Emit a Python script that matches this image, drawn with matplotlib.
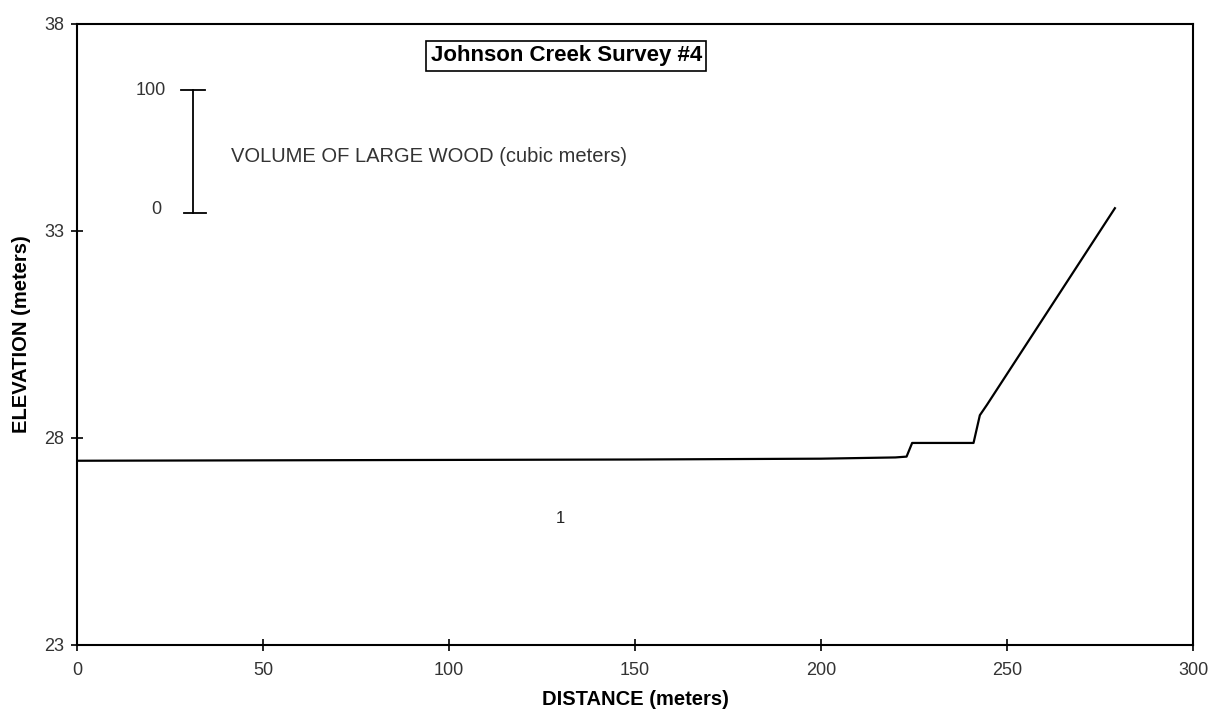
import matplotlib
matplotlib.use('Agg')
import matplotlib.pyplot as plt

# Longitudinal profile
distance = [0, 50, 100, 150, 200, 220, 223, 224.5, 241, 242.7, 244.6, 279]
elevation = [27.45, 27.46, 27.47, 27.48, 27.5, 27.53, 27.55, 27.88, 27.88, 28.55, 28.8, 33.55]

# Large wood volume markers (only one labelled point on this survey)
wood_x = [130]
wood_y = [26.05]
wood_labels = ['1']

# Volume scale bar (0-100 cubic meters) drawn in elevation units
scale_x = 31.2
scale_bottom = 33.43
scale_top = 36.4

x_ticks = [0, 50, 100, 150, 200, 250, 300]
y_ticks = [23, 28, 33, 38]

plt.rcParams['font.family'] = ['Liberation Sans', 'DejaVu Sans']

fig = plt.figure(figsize=(12.16, 7.18), dpi=100)
ax = fig.add_axes([0.0633, 0.1017, 0.9178, 0.8649])

ax.plot(distance, elevation, color='black', linewidth=1.6)

for x, y, lab in zip(wood_x, wood_y, wood_labels):
    ax.text(x, y, lab, fontsize=12, ha='center', va='center', color='#222222')

# scale bar with caps
ax.plot([scale_x, scale_x], [scale_bottom, scale_top], color='black', linewidth=1.3)
ax.plot([scale_x - 3.2, scale_x + 3.2], [scale_top, scale_top], color='black', linewidth=1.3)
ax.plot([scale_x - 2.5, scale_x + 3.5], [scale_bottom, scale_bottom], color='black', linewidth=1.3)
ax.text(scale_x - 7.2, scale_top, '100', fontsize=13, ha='right', va='center', color='#333333')
ax.text(scale_x - 8.5, scale_bottom + 0.1, '0', fontsize=13, ha='right', va='center', color='#333333')
ax.text(41.5, 34.8, 'VOLUME OF LARGE WOOD (cubic meters)', fontsize=14.5,
        ha='left', va='center', color='#333333')

ax.text(131.5, 37.23, 'Johnson Creek Survey #4', fontsize=16, fontweight='bold',
        ha='center', va='center',
        bbox=dict(boxstyle='square,pad=0.2', facecolor='white', edgecolor='black', linewidth=1.2))

ax.set_xlim(0, 300)
ax.set_ylim(23, 38)
ax.set_xticks(x_ticks)
ax.set_yticks(y_ticks)
ax.tick_params(direction='inout', length=8, width=1.2, labelsize=13, colors='black',
               labelcolor='#333333')
ax.tick_params(axis='x', pad=8)
ax.tick_params(axis='y', pad=5)
for spine in ax.spines.values():
    spine.set_linewidth(1.5)

ax.set_xlabel('DISTANCE (meters)', fontsize=14.5, fontweight='bold', labelpad=8)
ax.set_ylabel('ELEVATION (meters)', fontsize=14.5, fontweight='bold', labelpad=10)

fig.savefig('out.png', dpi=100)
